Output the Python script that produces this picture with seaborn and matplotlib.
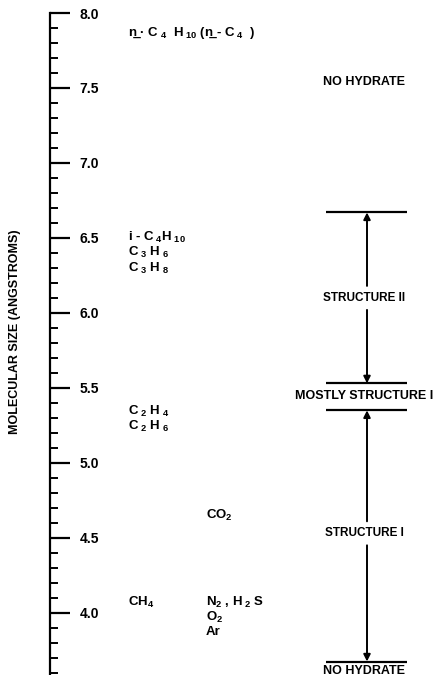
"""Hydrate structure vs. guest molecular size chart."""

import matplotlib

matplotlib.use("Agg")
import matplotlib.pyplot as plt
import seaborn as sns

# guest molecules and their size (angstroms)
species_labels = [
    "n\u0332 \u00b7 C$_{\\ 4}$  H$_{\\ 10}$ (n\u0332 - C$_{\\ 4}$  )",
    r"i - C$_{\ 4}$H$_{\ 10}$",
    r"C$_{\ 3}$ H$_{\ 6}$",
    r"C$_{\ 3}$ H$_{\ 8}$",
    r"C$_{\ 2}$ H$_{\ 4}$",
    r"C$_{\ 2}$ H$_{\ 6}$",
    r"CO$_2$",
    r"CH$_4$",
    r"N$_2$ , H$_{\ 2}$ S",
    r"O$_2$",
    r"Ar",
]
species_sizes = [7.87, 6.505, 6.40, 6.295, 5.34, 5.24, 4.65, 4.07, 4.07, 3.97, 3.87]
species_column = [0, 0, 0, 0, 0, 0, 1, 0, 1, 1, 1]

# structure boundaries (angstroms)
boundary_sizes = [6.67, 5.53, 5.35, 3.675]
region_labels = ["NO HYDRATE", "STRUCTURE II", "MOSTLY STRUCTURE I", "STRUCTURE I", "NO HYDRATE"]
region_sizes = [7.54, 6.10, 5.445, 4.53, 3.615]

major_ticks = [4.0, 4.5, 5.0, 5.5, 6.0, 6.5, 7.0, 7.5, 8.0]

sns.set_theme(style="white")
plt.rcParams["font.family"] = ["Liberation Sans", "DejaVu Sans"]
plt.rcParams["mathtext.fontset"] = "custom"
plt.rcParams["mathtext.rm"] = "Liberation Sans:bold"
plt.rcParams["mathtext.it"] = "Liberation Sans:bold"
plt.rcParams["mathtext.bf"] = "Liberation Sans:bold"

fig = plt.figure(figsize=(4.37, 6.75), dpi=100)
ax = fig.add_axes([0.1144, 0.0, 0.8856, 0.9807])
ax.set_xlim(50, 437)
ax.set_ylim(3.585, 8.0)

column_x = [128, 206]
for label, size, col in zip(species_labels, species_sizes, species_column):
    ax.text(column_x[col], size, label, fontsize=9.5, fontweight="bold", va="center", ha="left", color="black")

line_x0, line_x1, arrow_x = 326, 407, 367
ax.hlines(boundary_sizes, line_x0, line_x1, color="black", lw=1.6)
region_fs = [9, 8.5, 9, 8.5, 9]
for label, size, fs in zip(region_labels, region_sizes, region_fs):
    ax.text(364, size, label, fontsize=fs, fontweight="bold", ha="center", va="center", color="black")

# arrows between boundaries and the structure labels
arrow_kw = dict(arrowstyle="-|>", color="black", lw=1.4, mutation_scale=10, shrinkA=0, shrinkB=0)
ax.annotate("", xy=(arrow_x, boundary_sizes[0]), xytext=(arrow_x, region_sizes[1] + 0.08), arrowprops=arrow_kw)
ax.annotate("", xy=(arrow_x, boundary_sizes[1]), xytext=(arrow_x, region_sizes[1] - 0.08), arrowprops=arrow_kw)
ax.annotate("", xy=(arrow_x, boundary_sizes[2]), xytext=(arrow_x, region_sizes[3] + 0.08), arrowprops=arrow_kw)
ax.annotate("", xy=(arrow_x, boundary_sizes[3]), xytext=(arrow_x, region_sizes[3] - 0.08), arrowprops=arrow_kw)

sns.despine(ax=ax, top=True, right=True, bottom=True)
ax.spines["left"].set_linewidth(1.6)
ax.spines["left"].set_color("black")
ax.set_xticks([])
ax.set_yticks(major_ticks)
ax.set_yticklabels([f"{t:.1f}" for t in major_ticks], fontweight="bold", fontsize=10)
ax.yaxis.set_minor_locator(matplotlib.ticker.MultipleLocator(0.1))
ax.yaxis.tick_left()
ax.tick_params(axis="y", which="major", direction="in", length=14.5, width=1.6, pad=-21.5, color="black", labelcolor="black", left=True)
ax.tick_params(axis="y", which="minor", direction="in", length=6, width=1.4, color="black", left=True)
for lab in ax.get_yticklabels():
    lab.set_horizontalalignment("left")
ax.set_ylabel("MOLECULAR SIZE (ANGSTROMS)", fontsize=9, fontweight="bold", color="black")
ax.yaxis.set_label_coords(-0.075, 0.518)
ax.grid(False)

fig.savefig("out.png", dpi=100)
